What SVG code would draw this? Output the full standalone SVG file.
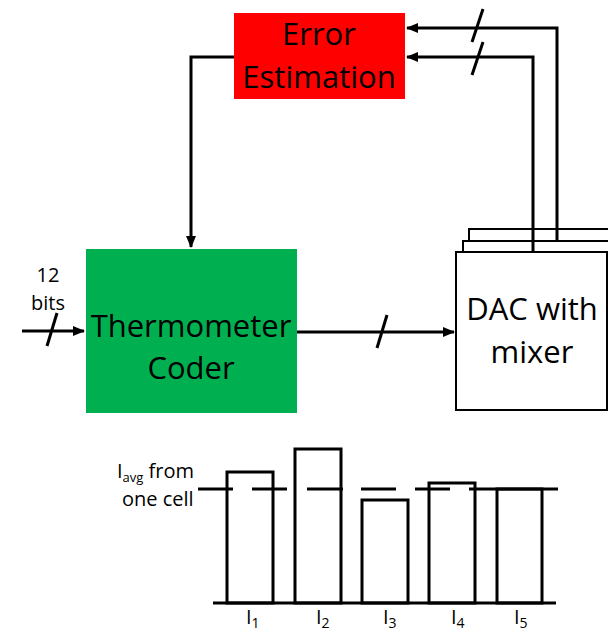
<svg xmlns="http://www.w3.org/2000/svg" width="608" height="632" viewBox="0 0 608 632">
<defs>
<style>
.t{font-family:"Open Sans","Liberation Sans",sans-serif;fill:#000}
.big{font-size:31px}
.sm{font-size:20px}
.sub{font-size:13px}
.sub2{font-size:14px}
.ln{stroke:#000;stroke-width:3;fill:none}
.bx{stroke:#000;stroke-width:2;fill:#fff}
.bar{stroke:#000;stroke-width:3;fill:#fff}
</style>
<marker id="ah" markerWidth="12" markerHeight="10" refX="11" refY="5" orient="auto" markerUnits="userSpaceOnUse">
<path d="M0,0 L12,5 L0,10 Z" fill="#000"/>
</marker>
</defs>
<rect width="608" height="632" fill="#fff"/>

<g id="error-estimation">
<rect x="234" y="13" width="171" height="86" fill="#ff0000"/>
<text class="t big" x="319" y="45" text-anchor="middle">Error</text>
<text class="t big" x="319" y="88" text-anchor="middle">Estimation</text>
</g>

<g id="thermometer-coder">
<rect x="86" y="249" width="211" height="164" fill="#00b050"/>
<text class="t big" x="191" y="337" text-anchor="middle">Thermometer</text>
<text class="t big" x="191" y="379" text-anchor="middle">Coder</text>
</g>

<g id="dac-mixer">
<rect class="bx" x="469" y="229" width="150" height="160"/>
<rect class="bx" x="463" y="241" width="150" height="160"/>
<rect class="bx" x="456" y="252" width="151" height="158"/>
<text class="t big" x="532" y="320" text-anchor="middle">DAC with</text>
<text class="t big" x="532" y="363" text-anchor="middle">mixer</text>
</g>

<g id="input-label">
<text class="t sm" x="48" y="282" text-anchor="middle">12</text>
<text class="t sm" x="48" y="310" text-anchor="middle">bits</text>
</g>

<g id="connectors">
<path class="ln" d="M22,331 H84" marker-end="url(#ah)"/>
<path class="ln" stroke-width="2.5" d="M57,313 L47,346"/>
<path class="ln" d="M297,332 H454" marker-end="url(#ah)"/>
<path class="ln" stroke-width="2.5" d="M387,315 L377,348"/>
<path class="ln" d="M234,57 H191 V247" marker-end="url(#ah)"/>
<path class="ln" d="M557,241 V28 H407" marker-end="url(#ah)"/>
<path class="ln" d="M533,252 V57 H407" marker-end="url(#ah)"/>
<path class="ln" stroke-width="2.5" d="M483,9 L472,42"/>
<path class="ln" stroke-width="2.5" d="M483,42 L472,75"/>
</g>

<g id="bar-chart">
<rect class="bar" x="227" y="472" width="46" height="131"/>
<rect class="bar" x="295" y="449" width="46" height="154"/>
<rect class="bar" x="362" y="500" width="46" height="103"/>
<rect class="bar" x="429" y="483" width="46" height="120"/>
<rect class="bar" x="497" y="489" width="45" height="114"/>
<path class="ln" d="M198,489 H233 M252,489 H287 M307,489 H343 M361,489 H396 M415,489 H450 M469,489 H558"/>
<path class="ln" d="M213,603 H556"/>
<text class="t sm" x="117" y="478">I<tspan class="sub" dy="4">avg</tspan><tspan dy="-4"> from</tspan></text>
<text class="t sm" x="122" y="506">one cell</text>
<text class="t sm" x="246" y="624">I<tspan class="sub2" dy="4">1</tspan></text>
<text class="t sm" x="316" y="624">I<tspan class="sub2" dy="4">2</tspan></text>
<text class="t sm" x="383" y="624">I<tspan class="sub2" dy="4">3</tspan></text>
<text class="t sm" x="451" y="624">I<tspan class="sub2" dy="4">4</tspan></text>
<text class="t sm" x="514" y="624">I<tspan class="sub2" dy="4">5</tspan></text>
</g>
</svg>
